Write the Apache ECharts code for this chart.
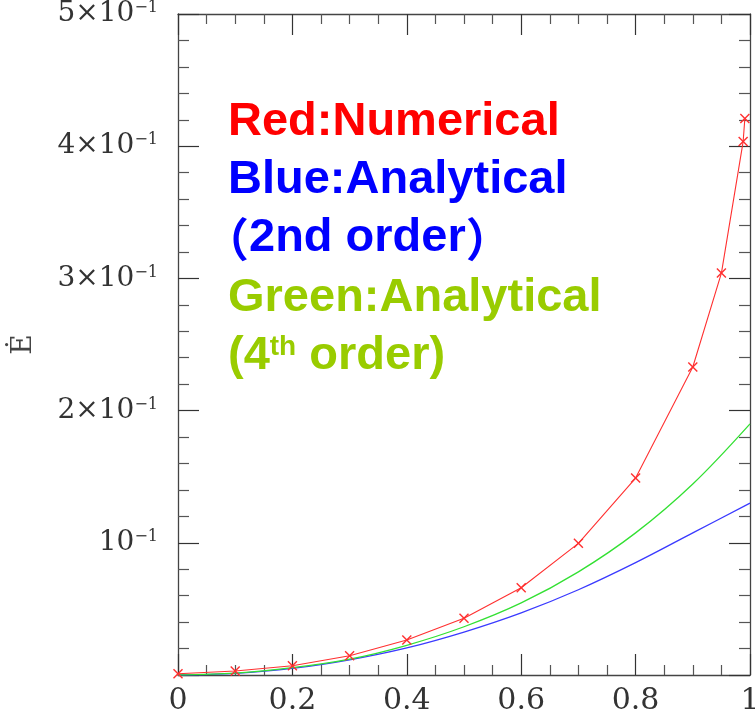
<!DOCTYPE html>
<html><head><meta charset="utf-8">
<script src="https://cdn.jsdelivr.net/npm/echarts@6/dist/echarts.min.js"></script>
<style>html,body{margin:0;padding:0;background:#fff}#c{width:755px;height:721px}</style>
</head><body><div id="c"></div>
<script>
// ---- data ----
const redX   = [0, 0.1, 0.2, 0.3, 0.4, 0.5, 0.6, 0.7, 0.8, 0.9, 0.95, 0.988, 0.991];
const redY   = [0.001, 0.003, 0.007, 0.0146, 0.0265, 0.043, 0.066, 0.0996, 0.149, 0.233, 0.304, 0.4035, 0.421];
const curveX = [0, 0.1, 0.2, 0.3, 0.4, 0.5, 0.6, 0.7, 0.8, 0.9, 1.0];
const blueY  = [0, 0.0013, 0.005, 0.0115, 0.0205, 0.0325, 0.047, 0.0645, 0.085, 0.1075, 0.130];
const greenY = [0, 0.0014, 0.0055, 0.012, 0.0225, 0.0365, 0.0545, 0.078, 0.1075, 0.1445, 0.190];
const xTickLabels = ['0', '0.2', '0.4', '0.6', '0.8', '1'];
const yTickLabels = ['', '{m|10}{s|−1}', '{m|2×10}{s|−1}', '{m|3×10}{s|−1}', '{m|4×10}{s|−1}', '{m|5×10}{s|−1}'];
const yAxisName = 'Ė';
const noteLines = ['Red:Numerical', 'Blue:Analytical', '（2nd order）', 'Green:Analytical', '(4th order)'];

const chart = echarts.init(document.getElementById('c'), null, {renderer: 'canvas'});

function xAx(pos, showLabel) {
  return {
    type: 'value', min: 0, max: 1, interval: 0.2, position: pos,
    axisLine: {show: true, onZero: false, lineStyle: {color: '#444', width: 1.3}},
    axisTick: {show: true, inside: true, length: 21, lineStyle: {color: '#333', width: 1.2}},
    minorTick: {show: true, splitNumber: 4, length: 10, lineStyle: {color: '#555', width: 1.2}},
    splitLine: {show: false}, minorSplitLine: {show: false},
    axisLabel: {show: showLabel, formatter: (v, i) => xTickLabels[i], fontFamily: 'DejaVu Serif',
      fontSize: 30, color: '#333', margin: 11}
  };
}
function yAx(pos, showLabel) {
  return {
    type: 'value', min: 0, max: 0.5, interval: 0.1, position: pos,
    axisLine: {show: true, onZero: false, lineStyle: {color: '#444', width: 1.3}},
    axisTick: {show: true, inside: true, length: 21, lineStyle: {color: '#333', width: 1.2}},
    minorTick: {show: true, splitNumber: 5, length: 11, lineStyle: {color: '#555', width: 1.2}},
    splitLine: {show: false}, minorSplitLine: {show: false},
    name: showLabel ? yAxisName : '', nameLocation: 'middle', nameGap: 140,
    nameTextStyle: {fontFamily: 'DejaVu Serif', fontSize: 28, color: '#444'},
    axisLabel: {show: showLabel, formatter: (v, i) => yTickLabels[i], margin: 20,
      rich: {
        m: {fontFamily: 'DejaVu Serif', fontSize: 28, lineHeight: 28, color: '#333'},
        s: {fontFamily: 'DejaVu Serif', fontSize: 16, lineHeight: 20, verticalAlign: 'top', color: '#333'}
      }}
  };
}

const second = noteLines[2];
const secondRich = '{p|' + second[0] + '}{c|' + second.slice(1, -1) + '}{p|' + second[second.length - 1] + '}';
const fourth = noteLines[4];
const fourthRich = '{g|' + fourth.slice(0, 2) + '}{t|' + fourth.slice(2, 4) + '}{g|' + fourth.slice(4) + '}';

const F = '"Liberation Sans", Arial, sans-serif';
chart.setOption({
  animation: false,
  grid: {left: 178, right: 5, top: 14, bottom: 46, containLabel: false, outerBoundsMode: 'none'},
  xAxis: [xAx('bottom', true), xAx('top', false)],
  yAxis: [yAx('left', true), yAx('right', false)],
  series: [
    {type: 'line', name: 'blue', data: curveX.map((x, i) => [x, blueY[i]]), smooth: 0.35,
      showSymbol: false, lineStyle: {color: '#3a3aff', width: 1.3}, z: 2},
    {type: 'line', name: 'green', data: curveX.map((x, i) => [x, greenY[i]]), smooth: 0.35,
      showSymbol: false, lineStyle: {color: '#33e033', width: 1.3}, z: 3},
    {type: 'line', name: 'red', data: redX.map((x, i) => [x, redY[i]]),
      symbol: 'path://M0,1L1,0L5,4L9,0L10,1L6,5L10,9L9,10L5,6L1,10L0,9L4,5Z', symbolSize: 10,
      showAllSymbol: true,
      lineStyle: {color: '#ff3030', width: 1.1}, itemStyle: {color: '#ff3030'}, z: 4}
  ],
  graphic: [
    {type: 'text', left: 228, top: 99, z: 10, style: {text: noteLines[0], font: 'bold 47px ' + F, fill: '#ff0000'}},
    {type: 'text', left: 228, top: 157, z: 10, style: {text: noteLines[1], font: 'bold 47px ' + F, fill: '#0000ff'}},
    {type: 'text', left: 203, top: 215, z: 10, style: {text: secondRich, fill: '#0000ff',
      rich: {
        p: {fontFamily: '"Noto Sans CJK JP"', fontWeight: 'bold', fontSize: 46, lineHeight: 48, fill: '#0000ff'},
        c: {fontFamily: F, fontWeight: 'bold', fontSize: 47, lineHeight: 48, fill: '#0000ff'}
      }}},
    {type: 'text', left: 228, top: 275, z: 10, style: {text: noteLines[3], font: 'bold 47px ' + F, fill: '#99cc00'}},
    {type: 'text', left: 228, top: 333, z: 10, style: {text: fourthRich, fill: '#99cc00',
      rich: {
        g: {fontFamily: F, fontWeight: 'bold', fontSize: 47, lineHeight: 47, fill: '#99cc00'},
        t: {fontFamily: F, fontWeight: 'bold', fontSize: 28, lineHeight: 33, verticalAlign: 'top', fill: '#99cc00'}
      }}}
  ]
});
</script></body></html>
